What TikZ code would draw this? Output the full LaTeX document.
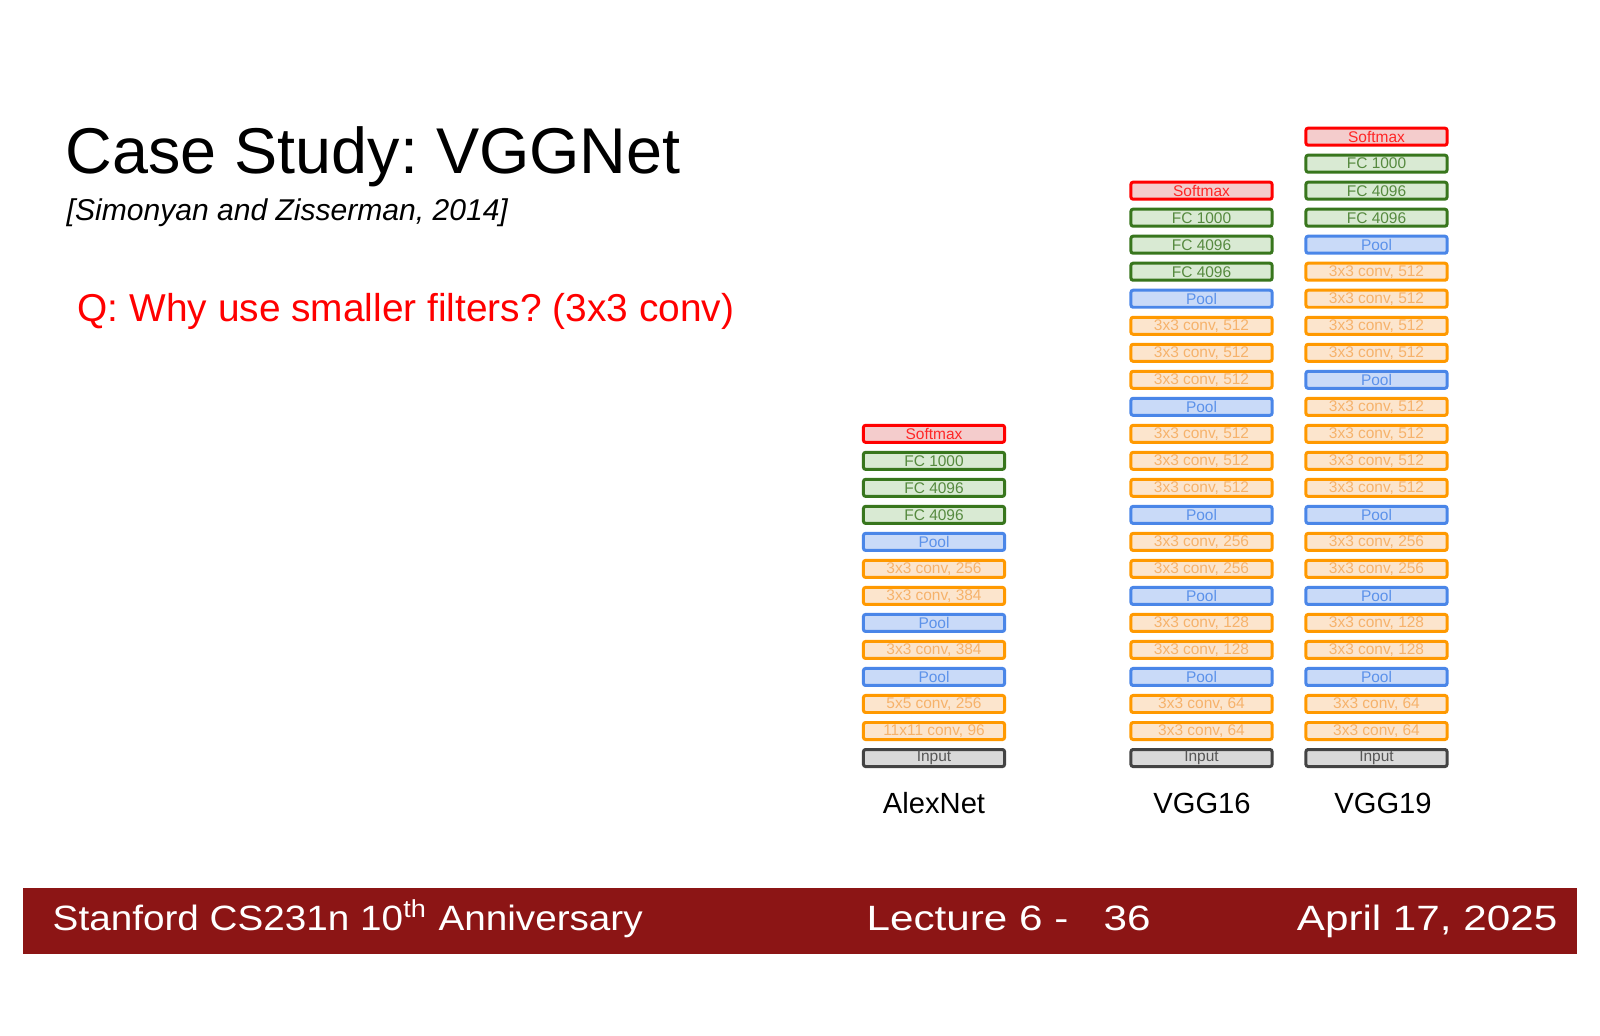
\documentclass[tikz,border=0pt]{standalone}
\usepackage{fontspec}
\setmainfont{Liberation Sans}
\usepackage{tikz}
\usetikzlibrary{positioning}
\frenchspacing

\definecolor{softred}{HTML}{FF0000}
\definecolor{softfill}{HTML}{F4CCCC}
\definecolor{fcgreen}{HTML}{38761D}
\definecolor{fcfill}{HTML}{D9EAD3}
\definecolor{poolblue}{HTML}{4A86E8}
\definecolor{poolfill}{HTML}{C9DAF8}
\definecolor{convorange}{HTML}{FF9900}
\definecolor{convfill}{HTML}{FCE5CD}
\definecolor{convtext}{HTML}{F6B26B}
\definecolor{inputgray}{HTML}{434343}
\definecolor{inputfill}{HTML}{D9D9D9}
\definecolor{cardinal}{HTML}{8C1515}

\tikzstyle{layer} = [rectangle, rounded corners=0.6pt, minimum width=1.41cm, minimum height=0.17cm, inner sep=0pt, line width=0.85pt, text centered, font=\fontsize{4.4}{5}\selectfont]
\tikzstyle{softmax} = [layer, draw=softred, fill=softfill, text=softred!85!white]
\tikzstyle{fc} = [layer, draw=fcgreen, fill=fcfill, text=fcgreen!85!white]
\tikzstyle{pool} = [layer, draw=poolblue, fill=poolfill, text=poolblue!90!white]
\tikzstyle{conv} = [layer, draw=convorange, fill=convfill, text=convtext]
\tikzstyle{inputbox} = [layer, draw=inputgray, fill=inputfill, text=inputgray!90!white]
\tikzstyle{netname} = [anchor=base, font=\fontsize{8.3}{10}\selectfont]

\begin{document}
\begin{tikzpicture}[x=0.01cm, y=-0.01cm, node distance=0.27cm]
        \fill[white] (0,0) rectangle (1600,1035);
        \useasboundingbox (0,0) rectangle (1600,1035);

        \node (title) [anchor=base west, inner sep=0pt, font=\fontsize{18.4}{22}\selectfont] at (65,173) {Case Study: VGGNet};
        \node (cite) [anchor=base west, inner sep=0pt, font=\fontsize{8.55}{10}\selectfont\itshape] at (66,220) {[Simonyan and Zisserman, 2014]};
        \node (question) [anchor=base west, inner sep=0pt, text=red, font=\fontsize{11.05}{13}\selectfont] at (77,321) {Q: Why use smaller filters? (3x3 conv)};

        % AlexNet
        \node (AlexInput) [inputbox] at (934,758) {Input};
        \node (AlexConv1) [conv, above of=AlexInput] {11x11 conv, 96};
        \node (AlexConv2) [conv, above of=AlexConv1] {5x5 conv, 256};
        \node (AlexPool1) [pool, above of=AlexConv2] {Pool};
        \node (AlexConv3) [conv, above of=AlexPool1] {3x3 conv, 384};
        \node (AlexPool2) [pool, above of=AlexConv3] {Pool};
        \node (AlexConv4) [conv, above of=AlexPool2] {3x3 conv, 384};
        \node (AlexConv5) [conv, above of=AlexConv4] {3x3 conv, 256};
        \node (AlexPool3) [pool, above of=AlexConv5] {Pool};
        \node (AlexFC1) [fc, above of=AlexPool3] {FC 4096};
        \node (AlexFC2) [fc, above of=AlexFC1] {FC 4096};
        \node (AlexFC3) [fc, above of=AlexFC2] {FC 1000};
        \node (AlexSoftmax) [softmax, above of=AlexFC3] {Softmax};
        \node (AlexName) [netname] at (934,813) {AlexNet};

        % VGG16
        \node (VGG16Input) [inputbox] at (1201.5,758) {Input};
        \node (VGG16Conv1) [conv, above of=VGG16Input] {3x3 conv, 64};
        \node (VGG16Conv2) [conv, above of=VGG16Conv1] {3x3 conv, 64};
        \node (VGG16Pool1) [pool, above of=VGG16Conv2] {Pool};
        \node (VGG16Conv3) [conv, above of=VGG16Pool1] {3x3 conv, 128};
        \node (VGG16Conv4) [conv, above of=VGG16Conv3] {3x3 conv, 128};
        \node (VGG16Pool2) [pool, above of=VGG16Conv4] {Pool};
        \node (VGG16Conv5) [conv, above of=VGG16Pool2] {3x3 conv, 256};
        \node (VGG16Conv6) [conv, above of=VGG16Conv5] {3x3 conv, 256};
        \node (VGG16Pool3) [pool, above of=VGG16Conv6] {Pool};
        \node (VGG16Conv7) [conv, above of=VGG16Pool3] {3x3 conv, 512};
        \node (VGG16Conv8) [conv, above of=VGG16Conv7] {3x3 conv, 512};
        \node (VGG16Conv9) [conv, above of=VGG16Conv8] {3x3 conv, 512};
        \node (VGG16Pool4) [pool, above of=VGG16Conv9] {Pool};
        \node (VGG16Conv10) [conv, above of=VGG16Pool4] {3x3 conv, 512};
        \node (VGG16Conv11) [conv, above of=VGG16Conv10] {3x3 conv, 512};
        \node (VGG16Conv12) [conv, above of=VGG16Conv11] {3x3 conv, 512};
        \node (VGG16Pool5) [pool, above of=VGG16Conv12] {Pool};
        \node (VGG16FC1) [fc, above of=VGG16Pool5] {FC 4096};
        \node (VGG16FC2) [fc, above of=VGG16FC1] {FC 4096};
        \node (VGG16FC3) [fc, above of=VGG16FC2] {FC 1000};
        \node (VGG16Softmax) [softmax, above of=VGG16FC3] {Softmax};
        \node (VGG16Name) [netname] at (1202,813) {VGG16};

        % VGG19
        \node (VGG19Input) [inputbox] at (1376.5,758) {Input};
        \node (VGG19Conv1) [conv, above of=VGG19Input] {3x3 conv, 64};
        \node (VGG19Conv2) [conv, above of=VGG19Conv1] {3x3 conv, 64};
        \node (VGG19Pool1) [pool, above of=VGG19Conv2] {Pool};
        \node (VGG19Conv3) [conv, above of=VGG19Pool1] {3x3 conv, 128};
        \node (VGG19Conv4) [conv, above of=VGG19Conv3] {3x3 conv, 128};
        \node (VGG19Pool2) [pool, above of=VGG19Conv4] {Pool};
        \node (VGG19Conv5) [conv, above of=VGG19Pool2] {3x3 conv, 256};
        \node (VGG19Conv6) [conv, above of=VGG19Conv5] {3x3 conv, 256};
        \node (VGG19Pool3) [pool, above of=VGG19Conv6] {Pool};
        \node (VGG19Conv7) [conv, above of=VGG19Pool3] {3x3 conv, 512};
        \node (VGG19Conv8) [conv, above of=VGG19Conv7] {3x3 conv, 512};
        \node (VGG19Conv9) [conv, above of=VGG19Conv8] {3x3 conv, 512};
        \node (VGG19Conv10) [conv, above of=VGG19Conv9] {3x3 conv, 512};
        \node (VGG19Pool4) [pool, above of=VGG19Conv10] {Pool};
        \node (VGG19Conv11) [conv, above of=VGG19Pool4] {3x3 conv, 512};
        \node (VGG19Conv12) [conv, above of=VGG19Conv11] {3x3 conv, 512};
        \node (VGG19Conv13) [conv, above of=VGG19Conv12] {3x3 conv, 512};
        \node (VGG19Conv14) [conv, above of=VGG19Conv13] {3x3 conv, 512};
        \node (VGG19Pool5) [pool, above of=VGG19Conv14] {Pool};
        \node (VGG19FC1) [fc, above of=VGG19Pool5] {FC 4096};
        \node (VGG19FC2) [fc, above of=VGG19FC1] {FC 4096};
        \node (VGG19FC3) [fc, above of=VGG19FC2] {FC 1000};
        \node (VGG19Softmax) [softmax, above of=VGG19FC3] {Softmax};
        \node (VGG19Name) [netname] at (1383,813) {VGG19};

        % footer
        \fill[cardinal] (23,888) rectangle (1577,954);
        \node (course) [anchor=base west, inner sep=0pt, text=white, font=\fontsize{10}{12}\selectfont] at (52,930) {\scalebox{1.1}[1]{Stanford CS231n 10\textsuperscript{th} Anniversary}};
        \node (lecture) [anchor=base west, inner sep=0pt, text=white, font=\fontsize{10}{12}\selectfont] at (866,930) {\scalebox{1.2}[1]{Lecture 6 -\ \ \ 36}};
        \node (date) [anchor=base east, inner sep=0pt, text=white, font=\fontsize{10}{12}\selectfont] at (1558,930) {\scalebox{1.2}[1]{April 17, 2025}};

      \end{tikzpicture}
\end{document}
